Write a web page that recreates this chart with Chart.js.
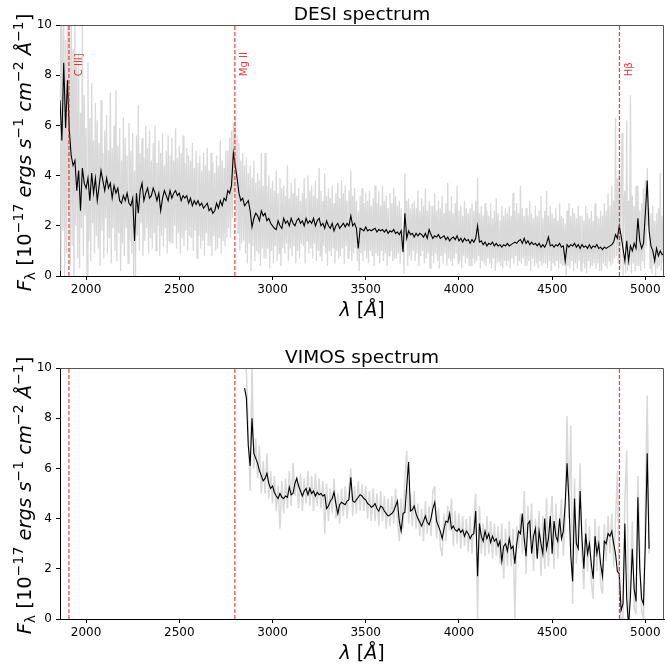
<!DOCTYPE html>
<html>
<head>
<title>DESI / VIMOS spectrum</title>
<script src="https://cdn.jsdelivr.net/npm/chart.js"></script>
<style>
    body {
        margin: 0;
        background: #fff;
        width: 665px;
        height: 668px;
        overflow: hidden;
        position: relative;
    }
    canvas { position: absolute; left: 0; }
    #desi { top: 0; }
    #vimos { top: 343px; }
</style>
</head>
<body>
<canvas id="desi" width="665" height="334"></canvas>
<canvas id="vimos" width="665" height="325"></canvas>
<script>
// wavelength grids (A): start and sample spacing
const desiStart = 1860;
const desiRawStep = 5;
const smoothStep = 10;
const vimosStart = 2850;
const vimosStep = 10;

// DESI raw flux (grey), 5 A samples
const desiFlux = [
    11, 0.2, 10.5, 1.8, 11, -0.3, 9.4, 0.9, 10.8, 2.5, 10.2, 0.4, 11, 1.2, 9.0, -0.5, 10.4, 2.0, 8.6, 0.7,
    8.9, 0.3, 6.5, 1.9, 10.1, 0.8, 7.2, 2.4, 5.9, 0.0, 8.5, 1.4, 6.3, 0.6, 7.7, 2.1, 5.4, 0.9, 6.9, 1.6,
    6.2, 1.1, 5.3, 0.4, 7.0, 1.8, 4.9, 0.7, 5.8, 2.3, 6.4, 0.9, 5.0, 1.5, 7.3, 0.5, 5.1, 1.9, 6.0, 1.0,
    7.4, 0.6, 5.2, 1.7, 5.9, 0.2, 4.6, 1.3, 6.3, 0.8, 5.5, 1.9, 4.8, 0.5, 6.1, 1.4, 5.0, 0.9, 5.7, 0.0,
    4.2, 0.0, 5.6, 1.6, 6.8, 1.0, 4.9, 2.1, 5.5, 0.8, 4.7, 1.4, 6.0, 1.9, 5.1, 0.9, 5.8, 1.5, 4.6, 1.1,
    5.3, 1.7, 6.0, 1.0, 4.5, 2.0, 5.4, 0.8, 4.9, 1.6, 5.7, 1.2, 4.4, 1.9, 5.0, 0.9, 5.6, 1.4, 4.8, 1.3,
    5.5, 1.3, 4.6, 2.0, 5.9, 1.1, 4.7, 1.7, 5.2, 0.9, 4.9, 1.5, 5.6, 1.2, 4.5, 1.8, 5.1, 1.0, 4.8, 1.6,
    4.6, 1.5, 5.3, 1.0, 4.3, 1.8, 5.0, 0.7, 4.5, 1.6, 4.8, 1.1, 4.2, 1.4, 4.9, 0.8, 4.4, 1.7, 5.1, 1.2,
    4.2, 1.2, 4.9, 0.8, 4.5, 1.6, 4.1, 1.0, 4.8, 1.1, 4.4, 1.5, 5.4, 0.9, 4.6, 1.4, 4.3, 1.2, 5.0, 1.5,
    5.0, 1.9, 5.5, 1.5, 5.8, 2.3, 6.1, 3.2, 6.3, 2.2, 5.6, 1.7, 5.3, 1.0, 4.6, 1.3, 4.9, 1.4, 4.4, 0.9,
    4.7, 0.5, 4.1, 1.3, 4.4, 0.2, 3.9, 1.2, 4.6, 0.6, 3.7, 1.0, 4.1, 0.9, 3.8, 0.4, 4.9, 1.1, 3.6, 0.7,
    4.9, 0.7, 3.6, 1.1, 4.0, 0.3, 3.5, 1.0, 3.8, 0.5, 3.4, 1.2, 4.2, 0.6, 3.3, 0.9, 3.9, 0.4, 3.5, 1.1,
    3.6, 0.9, 3.2, 1.3, 4.4, 0.6, 3.1, 1.1, 3.7, 0.8, 3.3, 1.2, 3.9, 0.5, 3.2, 1.0, 3.5, 0.7, 3.0, 1.3,
    3.3, 1.2, 3.9, 0.5, 3.1, 1.4, 4.0, 0.9, 3.4, 1.1, 3.6, 0.7, 3.2, 1.3, 3.8, 0.6, 3.1, 1.0, 4.3, 0.8,
    3.4, 0.6, 3.0, 1.2, 4.1, 0.9, 3.2, 0.4, 3.5, 1.0, 3.1, 0.8, 3.6, 1.1, 2.9, 0.5, 3.3, 1.0, 3.7, 0.7,
    3.1, 0.8, 3.8, 1.1, 3.3, 0.5, 3.6, 1.2, 3.0, 0.7, 3.4, 1.0, 4.2, 0.6, 3.2, 0.9, 3.5, 1.1, 3.0, 0.6,
    2.6, 0.2, 3.2, 0.9, 3.5, 0.6, 2.9, 1.0, 3.3, 0.7, 3.0, 0.5, 3.4, 1.0, 2.8, 0.8, 3.1, 0.4, 3.6, 0.9,
    2.9, 0.8, 3.4, 0.5, 2.8, 1.0, 3.6, 0.6, 3.0, 0.9, 3.2, 0.4, 2.7, 0.8, 3.3, 1.0, 2.9, 0.6, 3.5, 0.7,
    3.2, 0.7, 2.8, 0.9, 3.0, 0.5, 2.7, 1.0, 1.8, 0.1, 4.1, 1.3, 3.0, 0.4, 3.1, 0.8, 2.7, 0.6, 2.9, 1.0,
    3.0, 0.6, 2.7, 0.9, 3.4, 0.4, 2.6, 0.8, 3.1, 1.0, 2.8, 0.5, 3.5, 0.7, 2.6, 0.9, 3.0, 0.3, 2.8, 0.8,
    2.8, 0.5, 3.3, 0.9, 2.6, 0.6, 3.0, 0.3, 2.7, 0.8, 3.2, 0.5, 2.5, 0.9, 2.9, 0.4, 3.7, 0.7, 2.6, 0.6,
    3.2, 0.4, 2.5, 0.7, 2.9, 0.9, 3.6, 0.5, 2.6, 0.6, 2.8, 0.3, 2.4, 0.8, 3.0, 0.5, 2.7, 0.7, 2.5, 0.4,
    2.7, 0.4, 2.9, 0.7, 2.6, 0.5, 3.0, 0.6, 3.9, 0.8, 2.5, 0.3, 2.8, 0.6, 2.4, 0.5, 2.9, 0.4, 2.6, 0.7,
    2.4, 0.5, 2.9, 0.3, 2.3, 0.7, 2.6, 0.2, 3.1, 0.5, 2.5, 0.6, 2.2, 0.4, 2.8, 0.3, 2.4, 0.6, 2.7, 0.4,
    2.5, 0.6, 2.8, 0.3, 2.4, 0.7, 3.3, 0.5, 2.6, 0.8, 2.9, 0.4, 2.5, 0.6, 3.6, 0.5, 2.7, 0.7, 2.4, 0.4,
    2.7, 0.4, 2.4, 0.6, 3.0, 0.2, 2.5, 0.7, 2.3, 0.4, 2.8, 0.5, 2.4, 0.3, 2.6, 0.6, 3.2, 0.4, 2.3, 0.5,
    2.6, 0.5, 3.4, 0.3, 2.4, 0.6, 2.8, 0.2, 2.5, 0.5, 2.3, 0.4, 2.7, 0.6, 2.2, 0.3, 2.9, 0.5, 2.4, 0.4,
    2.3, 0.4, 2.1, 0.0, 2.6, 0.4, 2.9, 0.3, 2.4, 0.6, 2.7, 0.2, 2.5, 0.5, 2.3, 0.3, 2.8, 0.6, 2.4, 0.2,
    2.4, 0.5, 2.2, 0.3, 2.8, 0.1, 2.5, 0.6, 2.3, 0.3, 2.6, 0.4, 2.2, 0.5, 2.9, 0.3, 2.4, 0.5, 2.3, 0.2,
    2.6, 0.2, 2.4, 0.5, 2.9, 0.4, 2.6, 0.3, 3.3, 0.6, 2.8, 0.4, 3.6, 0.5, 3.0, 0.7, 6.3, 0.8, 3.9, 0.5,
    4.2, 0.3, 3.5, 5.7, 0.0, 2.9, 3.4, 0.1, 6.2, 0.2, 3.0, 0.4, 7.2, 0.1, 3.2, 0.5, 2.8, 0.2, 3.6, 0.4,
    3.6, 0.4, 2.6, 0.2, 2.9, 0.6, 3.5, 0.3, 3.8, 1.2, 4.3, 2.0, 2.7, 0.3, 2.5, 0.1, 2.8, 0.4, 2.2, 0.0,
    2.5, 0.3, 2.7, 0.4, 4.1, 0.2, 2.4, 0.5, 2.1
];

// DESI smoothed flux (black), 10 A samples
const desiSmooth = [
    7.0, 5.4, 8.5, 5.9, 7.8, 5.8, 4.8, 4.4, 4.6, 3.4,
    4.2, 2.6, 4.3, 3.7, 3.5, 3.9, 3.0, 4.1, 3.3, 3.9,
    3.0, 3.6, 4.2, 3.8, 3.4, 3.9, 3.5, 3.7, 3.1, 3.6,
    3.3, 3.5, 3.0, 2.9, 3.2, 3.0, 3.3, 2.9, 2.8, 3.1,
    1.4, 3.3, 2.5, 3.4, 3.7, 3.0, 3.3, 3.5, 3.1, 3.2,
    3.5, 3.3, 3.0, 3.3, 2.6, 3.1, 3.4, 3.2, 3.0, 3.4,
    3.1, 3.3, 3.4, 3.2, 3.3, 3.0, 3.2, 3.1, 3.2, 2.9,
    3.1, 2.8, 3.0, 2.85, 3.0, 2.8, 2.9, 2.7, 2.8, 2.9,
    2.6, 2.7, 2.5, 2.6, 2.9, 2.7, 3.0, 2.8, 3.1, 3.0,
    3.4, 3.3, 3.6, 4.9, 4.4, 3.9, 3.3, 3.0, 3.1, 2.8,
    2.9, 3.0, 2.6, 1.95, 2.3, 2.5, 2.4, 2.2, 2.6, 2.4,
    2.5, 2.2, 2.3, 2.1, 2.0, 1.9, 1.85, 2.2, 2.0, 1.9,
    2.3, 2.1, 2.2, 2.0, 2.3, 2.1, 2.0, 2.2, 2.3, 2.1,
    2.2, 2.0, 2.3, 2.1, 2.2, 2.1, 2.3, 2.0, 2.2, 2.3,
    2.0, 2.1, 1.9, 2.2, 2.0, 1.9, 2.1, 1.8, 2.0, 2.1,
    1.9, 2.0, 2.1, 1.95, 2.1, 2.0, 2.4, 2.0, 2.1, 1.9,
    1.1, 1.9, 1.85, 1.8, 1.95, 1.8, 1.85, 1.8, 1.85, 1.9,
    1.75, 1.85, 1.8, 1.85, 1.75, 1.85, 1.7, 1.8, 1.75, 1.85,
    1.7, 1.75, 1.65, 1.8, 0.95, 2.5, 1.5, 1.8, 1.65, 1.7,
    1.55, 1.7, 1.6, 1.7, 1.65, 1.55, 1.7, 1.5, 1.85, 1.65,
    1.5, 1.6, 1.55, 1.65, 1.5, 1.55, 1.6, 1.45, 1.55, 1.4,
    1.5, 1.55, 1.45, 1.6, 1.4, 1.5, 1.35, 1.5, 1.4, 1.45,
    1.3, 1.45, 1.35, 1.5, 2.0, 1.35, 1.4, 1.25, 1.35, 1.2,
    1.3, 1.25, 1.35, 1.2, 1.3, 1.2, 1.25, 1.15, 1.25, 1.2,
    1.3, 1.2, 1.25, 1.3, 1.35, 1.3, 1.4, 1.45, 1.3, 1.5,
    1.3, 1.4, 1.25, 1.35, 1.25, 1.3, 1.2, 1.3, 1.15, 1.25,
    1.15, 1.3, 1.55, 1.2, 1.25, 1.15, 1.25, 1.2, 1.3, 1.15,
    1.2, 0.6, 1.25, 1.15, 1.25, 1.2, 1.3, 1.15, 1.25, 1.1,
    1.25, 1.15, 1.2, 1.1, 1.25, 1.1, 1.2, 1.15, 1.25, 1.1,
    1.15, 1.05, 1.15, 1.1, 1.15, 1.2, 1.25, 1.35, 1.65, 1.5,
    2.0, 1.6, 1.1, 0.6, 1.4, 0.6, 1.2, 1.0, 1.3, 1.1,
    2.3, 1.4, 1.1, 1.3, 2.5, 3.8, 1.8, 1.2, 1.0, 0.6,
    1.1, 0.8, 1.0, 0.85, 0.9
];

// VIMOS raw flux (grey)
const vimosFlux = [
    10.5, 9.8, 7.5, 5.1, 10.2, 6.0, 7.2, 5.6, 6.9, 5.0,
    6.3, 5.0, 6.6, 4.8, 5.9, 4.6, 5.7, 4.3, 5.3, 3.6,
    5.5, 4.2, 5.6, 4.4, 5.9, 4.5, 6.2, 4.9, 5.7, 4.4,
    5.8, 4.3, 5.6, 4.6, 5.9, 4.5, 5.7, 4.3, 5.8, 4.5,
    5.6, 4.4, 5.5, 3.4, 5.4, 3.9, 5.2, 4.2, 5.6, 4.0,
    5.0, 3.8, 5.2, 4.1, 5.3, 4.0, 5.2, 6.0, 4.1, 5.3,
    4.2, 5.5, 4.3, 5.4, 4.3, 5.3, 4.0, 5.1, 3.9, 5.2,
    3.9, 5.0, 3.7, 5.1, 3.9, 4.9, 3.6, 4.8, 3.7, 4.9,
    3.8, 5.2, 3.9, 3.1, 4.8, 3.6, 5.6, 6.7, 3.8, 5.0,
    3.7, 5.1, 3.6, 4.6, 3.3, 4.4, 3.1, 4.7, 3.4, 4.5,
    3.3, 5.1, 5.3, 3.2, 4.4, 2.9, 2.5, 4.2, 3.1, 4.5,
    3.5, 4.8, 2.9, 4.3, 3.0, 4.2, 2.8, 4.1, 2.9, 4.0,
    2.7, 4.1, 2.6, 3.9, 5.0, 0.0, 4.5, 2.6, 3.8, 2.5,
    4.1, 2.6, 3.9, 2.4, 3.8, 2.5, 3.7, 2.2, 3.8, 1.6,
    3.6, 2.1, 3.9, 2.1, 3.6, 0.0, 3.7, 2.8, 4.2, 2.6,
    5.1, 1.8, 4.5, 3.2, 4.6, 1.9, 4.0, 2.9, 4.3, 1.7,
    4.1, 2.0, 4.8, 2.1, 3.9, 4.9, 2.0, 4.6, 2.4, 3.7,
    4.8, 2.5, 4.0, 8.1, 4.0, 7.7, 0.6, 5.6, 2.2, 3.6,
    6.2, 2.5, 1.2, 4.0, 1.9, 3.7, 1.5, 0.8, 4.0, 1.9,
    3.7, 1.4, 1.0, 3.8, 2.3, 4.1, 2.6, 4.2, 2.1, 3.9,
    5.9, 1.2, 0.0, 0.0, 4.7, 6.7, 0.0, 1.6, 3.9, 0.4,
    0.2, 5.7, 2.8, 0.3, 0.0, 4.5, 8.9, 2.6
];

// VIMOS smoothed flux (black)
const vimosSmooth = [
    9.2, 8.8, 6.9, 6.1, 8.0, 6.6, 6.4, 6.2, 5.9, 5.7,
    5.5, 5.6, 5.8, 5.4, 5.2, 5.3, 5.05, 4.9, 4.8, 5.0,
    4.85, 4.8, 4.9, 4.85, 5.25, 4.95, 5.0, 5.4, 5.6, 5.3,
    5.1, 4.9, 5.1, 5.2, 4.95, 5.2, 5.0, 5.1, 4.9, 5.05,
    4.95, 5.0, 4.9, 4.95, 4.4, 4.5, 4.7, 4.8, 5.05, 4.6,
    4.2, 4.55, 4.65, 4.6, 4.55, 4.7, 4.75, 5.65, 4.7, 4.65,
    4.75, 4.85, 4.95, 4.9, 4.8, 4.75, 4.6, 4.55, 4.45, 4.5,
    4.6, 4.4, 4.3, 4.5, 4.45, 4.3, 4.2, 4.1, 4.15, 4.2,
    4.3, 4.5, 4.7, 3.9, 3.5, 4.2, 4.25, 5.3, 6.25, 4.3,
    4.35, 4.5, 4.2, 4.0, 3.85, 3.7, 3.9, 4.1, 3.85, 3.75,
    4.0, 4.4, 4.65, 3.9, 3.7, 3.5, 3.2, 3.6, 3.9, 3.85,
    4.2, 3.6, 3.7, 3.55, 3.5, 3.6, 3.45, 3.55, 3.3, 3.5,
    3.4, 3.2, 3.35, 3.4, 4.3, 1.7, 3.8, 3.3, 3.1, 3.5,
    3.2, 3.4, 3.05, 3.3, 3.1, 3.2, 2.9, 3.1, 2.3, 2.9,
    3.0, 2.7, 3.2, 2.8, 2.9, 2.2, 3.0, 3.5, 3.4, 4.2,
    3.2, 2.5, 3.8, 3.9, 2.6, 3.3, 3.6, 2.4, 3.5, 3.0,
    2.6, 4.0, 2.8, 3.2, 4.1, 2.6, 3.9, 3.3, 3.1, 4.0,
    3.2, 3.5, 4.6, 6.2, 4.7, 2.5, 1.5, 4.8, 3.0, 2.8,
    5.1, 3.2, 2.0, 3.4, 2.6, 3.0, 2.2, 1.6, 3.3, 2.6,
    3.0, 2.2, 1.7, 3.1, 3.0, 3.4, 3.3, 3.5, 3.0, 2.6,
    1.9, 1.8, 0.35, 0.6, 3.8, 0.8, -0.3, 0.9, 2.8, 1.2,
    0.7, 4.85, 2.0, 0.8, 0.6, 3.0, 6.6, 2.8
];

// emission lines
const lineWave = [1908, 2798, 4861];
const lineNames = ['C III]', 'Mg II', 'Hβ'];

const xRange = [1860, 5100];
const xTicks = [2000, 2500, 3000, 3500, 4000, 4500, 5000];
const yTicks = [0, 2, 4, 6, 8, 10];

const toPoints = (start, dx, arr) => arr.map((v, i) => ({ x: start + i * dx, y: v }));

const FONT = '"DejaVu Sans", sans-serif';

// pieces of the y label: [text, style]
const yLabelParts = [
    ['F', 'i'], ['λ', 'sub'], [' [10', 'n'], ['−17', 'sup'],
    [' ergs s', 'i'], ['−1', 'sup'], [' cm', 'i'], ['−2', 'sup'],
    [' Å', 'i'], ['−1', 'sup'], [']', 'n']
];
const xLabelParts = [['λ', 'i'], [' [', 'n'], ['Å', 'i'], [']', 'n']];

function partFont(style, size) {
    const small = Math.round(size * 0.7);
    if (style === 'i') return 'italic ' + size + 'px ' + FONT;
    if (style === 'sup' || style === 'sub') return small + 'px ' + FONT;
    return size + 'px ' + FONT;
}

function drawParts(ctx, parts, size) {
    let total = 0;
    parts.forEach(p => { ctx.font = partFont(p[1], size); total += ctx.measureText(p[0]).width; });
    let x = -total / 2;
    ctx.textAlign = 'left';
    ctx.textBaseline = 'alphabetic';
    parts.forEach(p => {
        ctx.font = partFont(p[1], size);
        let dy = 0;
        if (p[1] === 'sup') dy = -size * 0.42;
        if (p[1] === 'sub') dy = size * 0.22;
        ctx.fillText(p[0], x, dy);
        x += ctx.measureText(p[0]).width;
    });
}

const decor = {
    id: 'decor',
    afterDatasetsDraw(chart) {
        const ctx = chart.ctx;
        const xs = chart.scales.x, ys = chart.scales.y;
        if (!chart.options.showNames) return;
        ctx.save();
        ctx.fillStyle = 'rgba(230,20,20,0.85)';
        ctx.font = '10px ' + FONT;
        ctx.textAlign = 'left';
        ctx.textBaseline = 'middle';
        lineWave.forEach((w, i) => {
            ctx.save();
            ctx.translate(xs.getPixelForValue(w) + 10, ys.getPixelForValue(8) + 1);
            ctx.rotate(-Math.PI / 2);
            ctx.fillText(lineNames[i], 0, 0);
            ctx.restore();
        });
        ctx.restore();
    },
    afterDraw(chart) {
        const ctx = chart.ctx;
        const a = chart.chartArea;
        ctx.save();
        // top and right spines
        ctx.strokeStyle = '#555';
        ctx.lineWidth = 1;
        ctx.beginPath();
        ctx.moveTo(a.left, a.top + 0.5);
        ctx.lineTo(a.right - 0.5, a.top + 0.5);
        ctx.lineTo(a.right - 0.5, a.bottom);
        ctx.stroke();
        // title
        ctx.fillStyle = '#000';
        ctx.font = '18.5px ' + FONT;
        ctx.textAlign = 'center';
        ctx.textBaseline = 'alphabetic';
        ctx.fillText(chart.options.panelTitle, (a.left + a.right) / 2, a.top - 5.5);
        // x label
        ctx.save();
        ctx.translate((a.left + a.right) / 2, a.bottom + 40);
        drawParts(ctx, xLabelParts, 19);
        ctx.restore();
        // y label
        ctx.save();
        ctx.translate(31, (a.top + a.bottom) / 2 + 2);
        ctx.rotate(-Math.PI / 2);
        drawParts(ctx, yLabelParts, 19.5);
        ctx.restore();
        ctx.restore();
    }
};

function makeChart(id, title, raw, smooth, showNames) {
    const datasets = [
        { data: raw.points, borderColor: '#d9d9d9', borderWidth: raw.width, borderJoinStyle: 'bevel', order: 3 },
        { data: smooth, borderColor: '#000', borderWidth: 1.1, order: 2 }
    ];
    lineWave.forEach(w => datasets.push({
        data: [{ x: w, y: yTicks[0] }, { x: w, y: yTicks[yTicks.length - 1] }],
        borderColor: 'rgba(235,30,30,0.85)', borderWidth: 1.2, borderDash: [4, 2], order: 1
    }));

    const tickFont = { family: FONT, size: 12 };
    return new Chart(document.getElementById(id), {
        type: 'line',
        data: { datasets },
        options: {
            responsive: false,
            animation: false,
            devicePixelRatio: 1,
            panelTitle: title,
            showNames: showNames,
            elements: { point: { radius: 0 }, line: { tension: 0 } },
            layout: { padding: { top: 25, right: 1, left: 0, bottom: 0 } },
            plugins: { legend: { display: false }, tooltip: { enabled: false } },
            scales: {
                x: {
                    type: 'linear',
                    min: xRange[0],
                    max: xRange[1],
                    afterBuildTicks: s => { s.ticks = xTicks.map(v => ({ value: v })); },
                    afterFit: s => { s.height = s.chart.height - 276; },
                    grid: { drawOnChartArea: false, drawTicks: true, tickLength: 4, color: '#000' },
                    border: { color: '#000', width: 1 },
                    ticks: { font: tickFont, color: '#000', padding: 3, maxRotation: 0, callback: v => String(v) }
                },
                y: {
                    min: yTicks[0],
                    max: yTicks[yTicks.length - 1],
                    afterBuildTicks: s => { s.ticks = yTicks.map(v => ({ value: v })); },
                    afterFit: s => { s.width = 60; },
                    grid: { drawOnChartArea: false, drawTicks: true, tickLength: 4, color: '#000' },
                    border: { color: '#000', width: 1 },
                    ticks: { font: tickFont, color: '#000', padding: 4, callback: v => String(v) }
                }
            }
        },
        plugins: [decor]
    });
}

makeChart('desi', 'DESI spectrum',
    { points: toPoints(desiStart, desiRawStep, desiFlux), width: 1.3 },
    toPoints(desiStart, smoothStep, desiSmooth), true);
makeChart('vimos', 'VIMOS spectrum',
    { points: toPoints(vimosStart, vimosStep, vimosFlux), width: 1.5 },
    toPoints(vimosStart, vimosStep, vimosSmooth), false);
</script>
</body>
</html>
